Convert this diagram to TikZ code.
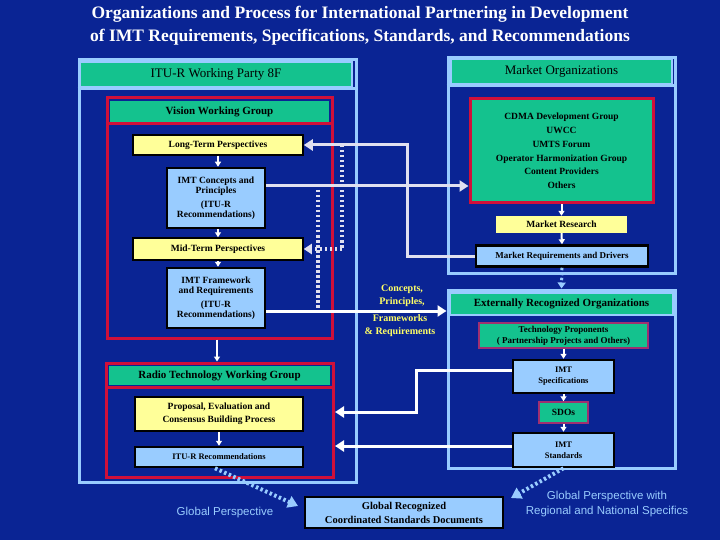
\documentclass[tikz,border=0pt]{standalone}
\usepackage{fontspec}
\setmainfont{Liberation Serif}
\setsansfont{Liberation Sans}
\usetikzlibrary{arrows.meta}
\definecolor{bg}{HTML}{0A2494}
\definecolor{lb}{HTML}{99CCFF}
\definecolor{teal}{HTML}{14C28E}
\definecolor{yel}{HTML}{FFFF99}
\definecolor{rd}{HTML}{D0103A}
\definecolor{pur}{HTML}{A03070}
\definecolor{wh}{HTML}{E0E0F0}
\definecolor{ylab}{HTML}{FFFF66}
\tikzset{
 fr/.style={draw=lb,line width=3pt,inner sep=0pt},
 rfr/.style={draw=rd,line width=3pt,inner sep=0pt},
 hdr/.style={fill=teal,inner sep=0pt,text=black},
 sm/.style={font=\fontsize{9.5}{10}\selectfont\bfseries,align=center,inner sep=0pt,text=black},
 box/.style={sm,fill=lb,draw=black,line width=2.5pt},
 ybox/.style={sm,fill=yel,draw=black,line width=1.5pt},
 tbox/.style={sm,fill=teal,draw=pur,line width=1.5pt},
 conn/.style={draw=wh,line width=3pt,-{Triangle[length=9pt,width=11pt]}},
 dn/.style={draw=white,line width=2pt,-{Triangle[length=5pt,width=6pt]}},
 dots/.style={draw=wh,line width=4pt,dash pattern=on 2.5pt off 2.5pt},
 ldots/.style={draw=lb,line width=4pt,dash pattern=on 2.5pt off 2.5pt},
 ylab/.style={text=ylab,font=\fontsize{10}{13}\selectfont\bfseries,align=center},
}
\begin{document}
\begin{tikzpicture}[x=1pt,y=-1pt]
\fill[bg] (0,0) rectangle (720,540);
\useasboundingbox (0,0) rectangle (720,540);
\node[text=white,font=\fontsize{17.5}{23}\selectfont\bfseries,align=center] (title) at (360,26)
 {Organizations and Process for International Partnering in Development\\of IMT Requirements, Specifications, Standards, and Recommendations};
% left frame
\node[fr,minimum width=277pt,minimum height=422pt] (wp) at (217.5,271) {};
\node[hdr,draw=lb,line width=2pt,minimum width=272pt,minimum height=25pt,font=\fontsize{13}{13}\selectfont] (wph) at (216,74.5) {ITU-R Working Party 8F};
\draw[lb,line width=3pt] (wp.west |- 0,89) -- (wp.east |- 0,89);
\node[rfr,minimum width=225pt,minimum height=240pt] (vis) at (219.5,218) {};
\node[hdr,minimum width=219pt,minimum height=21pt,font=\fontsize{11}{11}\selectfont\bfseries] (vish) at (219.5,111.5) {Vision Working Group};
\draw[rd,line width=3pt] (vis.west |- 0,124) -- (vis.east |- 0,124);
\node[ybox,minimum width=170pt,minimum height=20pt] (lt) at (218,145) {Long-Term Perspectives};
\node[box,minimum width=98pt,minimum height=60pt] (ic) at (216,198) {IMT Concepts and\\Principles\\[4pt](ITU-R\\Recommendations)};
\node[ybox,minimum width=170pt,minimum height=22pt] (mt) at (218,249) {Mid-Term Perspectives};
\node[box,minimum width=98pt,minimum height=60pt] (fw) at (216,298) {IMT Framework\\and Requirements\\[4pt](ITU-R\\Recommendations)};
% market frame
\node[fr,minimum width=227pt,minimum height=215pt] (mk) at (561.5,165.5) {};
\node[hdr,draw=lb,line width=2pt,minimum width=221pt,minimum height=25pt,font=\fontsize{13}{13}\selectfont] (mkh) at (561.5,71.5) {Market Organizations};
\draw[lb,line width=3pt] (mk.west |- 0,86) -- (mk.east |- 0,86);
\node[sm,fill=teal,draw=rd,line width=3pt,minimum width=183pt,minimum height=104pt,font=\fontsize{9.5}{13.7}\selectfont\bfseries] (cd) at (561.5,151) {CDMA Development Group\\UWCC\\UMTS Forum\\Operator Harmonization Group\\Content Providers\\Others};
\node[sm,fill=yel,minimum width=131pt,minimum height=17pt] (mr) at (561.5,224.5) {Market Research};
\node[box,minimum width=172pt,minimum height=21pt,font=\fontsize{9}{9}\selectfont\bfseries] (mrd) at (562,256) {Market Requirements and Drivers};
% external frame
\node[fr,minimum width=227pt,minimum height=178pt] (ex) at (561.5,379) {};
\node[hdr,draw=lb,line width=2pt,minimum width=223pt,minimum height=22pt,font=\fontsize{11}{11}\selectfont\bfseries] (exh) at (561.5,304) {Externally Recognized Organizations};
\node[tbox,minimum width=169pt,minimum height=25pt,font=\fontsize{9}{11}\selectfont\bfseries] (tp) at (563.5,335.5) {Technology Proponents\\( Partnership Projects and Others)};
\node[box,minimum width=101pt,minimum height=33pt,font=\fontsize{8.5}{11}\selectfont\bfseries] (is) at (563.5,376.5) {IMT\\Specifications};
\node[tbox,minimum width=49pt,minimum height=21pt] (sdo) at (563.5,412.5) {SDOs};
\node[box,minimum width=101pt,minimum height=34pt,font=\fontsize{8.5}{11}\selectfont\bfseries] (ist) at (563.5,450) {IMT\\Standards};
% radio tech
\node[rfr,minimum width=227pt,minimum height=114pt] (rt) at (219.5,420) {};
\node[hdr,minimum width=221pt,minimum height=19pt,font=\fontsize{11}{11}\selectfont\bfseries] (rth) at (219.5,375.5) {Radio Technology Working Group};
\draw[rd,line width=3pt] (rt.west |- 0,387) -- (rt.east |- 0,387);
\node[ybox,minimum width=168pt,minimum height=34pt,font=\fontsize{9.5}{13}\selectfont\bfseries] (pr) at (219,414) {Proposal, Evaluation and\\Consensus Building Process};
\node[box,minimum width=168pt,minimum height=20pt,font=\fontsize{8.5}{9}\selectfont\bfseries] (ir) at (219,457) {ITU-R Recommendations};
\node[sm,fill=lb,draw=black,line width=2.5pt,minimum width=198pt,minimum height=31pt,font=\fontsize{10.5}{14}\selectfont\bfseries] (gl) at (404,512.5) {Global Recognized\\Coordinated Standards Documents};
\node[text=lb,font=\sffamily\fontsize{11.5}{11.5}\selectfont] (gp) at (225,513) {Global Perspective};
\node[text=lb,font=\sffamily\fontsize{11.5}{15}\selectfont,align=center] (gpr) at (607,504) {Global Perspective with\\Regional and National Specifics};
\node[ylab] (lab1) at (402,296) {Concepts,\\Principles,};
\node[ylab] (lab2) at (400,326) {Frameworks\\\& Requirements};
% coordinates
\coordinate (d1) at (342,145);
\coordinate (d2) at (318,190);
\coordinate (rtR1) at (335,412);
\coordinate (rtR2) at (335,446);
% connectors
\draw[dots] (d1) -- (d1 |- mt.east);
\draw[dots] (d2) -- (d2 |- 0,311);
\draw[dots,-{Triangle[length=8pt,width=10pt]}] (d1 |- mt.east) -- (mt.east);
\draw[conn] (mrd.west) -- (407,256) -- (407,145) -- (lt.east);
\draw[conn] (ic.east |- 0,186) -- (cd.west |- 0,186);
\draw[conn,draw=white] (fw.east |- 0,311) -- (ex.west |- 0,311);
\draw[dn] (lt.south) -- (ic.north -| lt.south);
\draw[dn] (ic.south -| mt.north) -- (mt.north);
\draw[dn] (mt.south) -- (fw.north -| mt.south);
\draw[dn] (vis.south -| 217,0) -- (rt.north -| 217,0);
\draw[dn] (cd.south) -- (mr.north);
\draw[dn] (mr.south) -- (mrd.north);
\draw[ldots,-{Triangle[length=6pt,width=8pt]},line width=3pt] (mrd.south) -- (ex.north);
\draw[dn] (tp.south -| is.north) -- (is.north);
\draw[dn] (is.south) -- (sdo.north);
\draw[dn] (sdo.south) -- (ist.north);
\draw[dn] (pr.south) -- (ir.north);
\draw[conn,draw=white] (is.west |- 0,370) -- (416,370) -- (416,412) -- (rtR1);
\draw[conn,draw=white] (ist.west |- 0,446) -- (rtR2);
\draw[ldots,-{Triangle[length=10pt,width=12pt]}] (ir.south -| 215,0) -- (298,506);
\draw[ldots,-{Triangle[length=10pt,width=12pt]}] (ist.south) -- (511,498);
\end{tikzpicture}
\end{document}
